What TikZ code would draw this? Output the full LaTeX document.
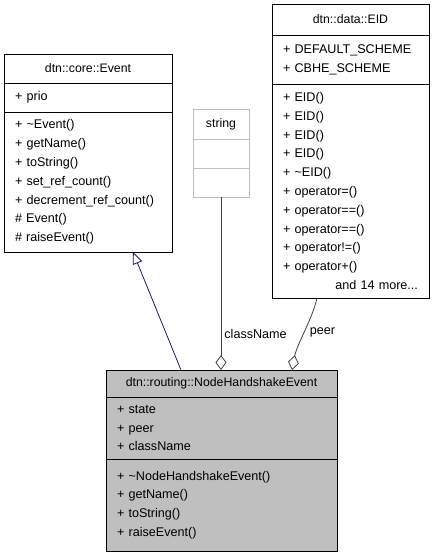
\documentclass[tikz,border=0pt]{standalone}
\usepackage{fontspec}
\setmainfont{Liberation Sans}
\usepackage{xcolor}
\usetikzlibrary{arrows.meta, positioning, calc}

\definecolor{edge_blue}{HTML}{191970}
\definecolor{edge_gray}{HTML}{404040}
\definecolor{box_gray}{HTML}{BFBFBF}

\begin{document}
\begin{tikzpicture}[x=1pt, y=-1pt, node distance=0pt]
        \tikzstyle{title_style} = [rectangle, draw=black, line width=0.9pt, outer sep=0pt, inner sep=0pt, text centered, font=\fontsize{12.3}{18.8}\selectfont]
        \tikzstyle{list_style} = [rectangle, draw=black, line width=0.9pt, outer sep=0pt, inner xsep=11pt, inner ysep=0pt, align=left, font=\fontsize{12.6}{18.8}\selectfont]
        \tikzstyle{inherit_arrow} = [line width=0.8pt, draw=edge_blue, -{Triangle[open, length=12pt, width=10pt]}]
        \tikzstyle{member_arrow} = [line width=0.8pt, draw=edge_gray, -{Diamond[open, length=15pt, width=11pt]}]
        \tikzstyle{label_style} = [font=\fontsize{12.6}{14}\selectfont, inner sep=3pt]

        \useasboundingbox (0,0) rectangle (432,557);

        % Base class
        \node (event_title) [title_style, anchor=north west, minimum width=168pt, minimum height=29pt] at (4,54) {dtn::core::Event};
        \node (event_attr) [list_style, below=of event_title, minimum width=168pt, text width=146pt, minimum height=29pt] {+ prio};
        \node (event_ops) [list_style, below=of event_attr, minimum width=168pt, text width=146pt, minimum height=140pt] {+ \textasciitilde Event()\\+ getName()\\+ toString()\\+ set\_ref\_count()\\+ decrement\_ref\_count()\\\# Event()\\\# raiseEvent()};

        % string
        \node (string_title) [title_style, draw=box_gray, anchor=north west, minimum width=56pt, minimum height=30pt] at (193,109) {string};
        \node (string_attr) [list_style, draw=box_gray, below=of string_title, minimum width=56pt, minimum height=29pt] {};
        \node (string_ops) [list_style, draw=box_gray, below=of string_attr, minimum width=56pt, minimum height=29pt] {};

        % EID
        \node (eid_title) [title_style, anchor=north west, minimum width=157pt, minimum height=31pt] at (272,4) {dtn::data::EID};
        \node (eid_attr) [list_style, below=of eid_title, minimum width=157pt, text width=135pt, minimum height=49pt] {+ DEFAULT\_SCHEME\\+ CBHE\_SCHEME};
        \node (eid_ops) [list_style, below=of eid_attr, minimum width=157pt, text width=135pt, minimum height=214pt] {+ EID()\\+ EID()\\+ EID()\\+ EID()\\+ \textasciitilde EID()\\+ operator=()\\+ operator==()\\+ operator==()\\+ operator!=()\\+ operator+()\\\hspace*{\fill}and 14 more...\hspace*{\fill}};

        % Derived class
        \node (nhe_title) [title_style, fill=box_gray, anchor=north west, minimum width=231pt, minimum height=27pt] at (106,370) {dtn::routing::NodeHandshakeEvent};
        \node (nhe_attr) [list_style, fill=box_gray, below=of nhe_title, minimum width=231pt, text width=209pt, minimum height=62pt] {+ state\\+ peer\\+ className};
        \node (nhe_ops) [list_style, fill=box_gray, below=of nhe_attr, minimum width=231pt, text width=209pt, minimum height=92pt] {+ \textasciitilde NodeHandshakeEvent()\\+ getName()\\+ toString()\\+ raiseEvent()};

        % Inheritance
        \draw [inherit_arrow] ($(nhe_title.north west)+(75,0)$) -- ($(event_ops.south west)+(129,0)$);

        % Members
        \draw [member_arrow] (string_ops.south) -- node[label_style, pos=0.79, anchor=west] {className} (string_ops.south |- nhe_title.north);
        \draw [member_arrow] ($(eid_ops.south west)+(45,0)$) .. controls +(-5,22) and +(5,-26) .. node[label_style, pos=0.5, anchor=west, xshift=2pt] {peer} ($(nhe_title.north west)+(186,0)$);
    \end{tikzpicture}
\end{document}
